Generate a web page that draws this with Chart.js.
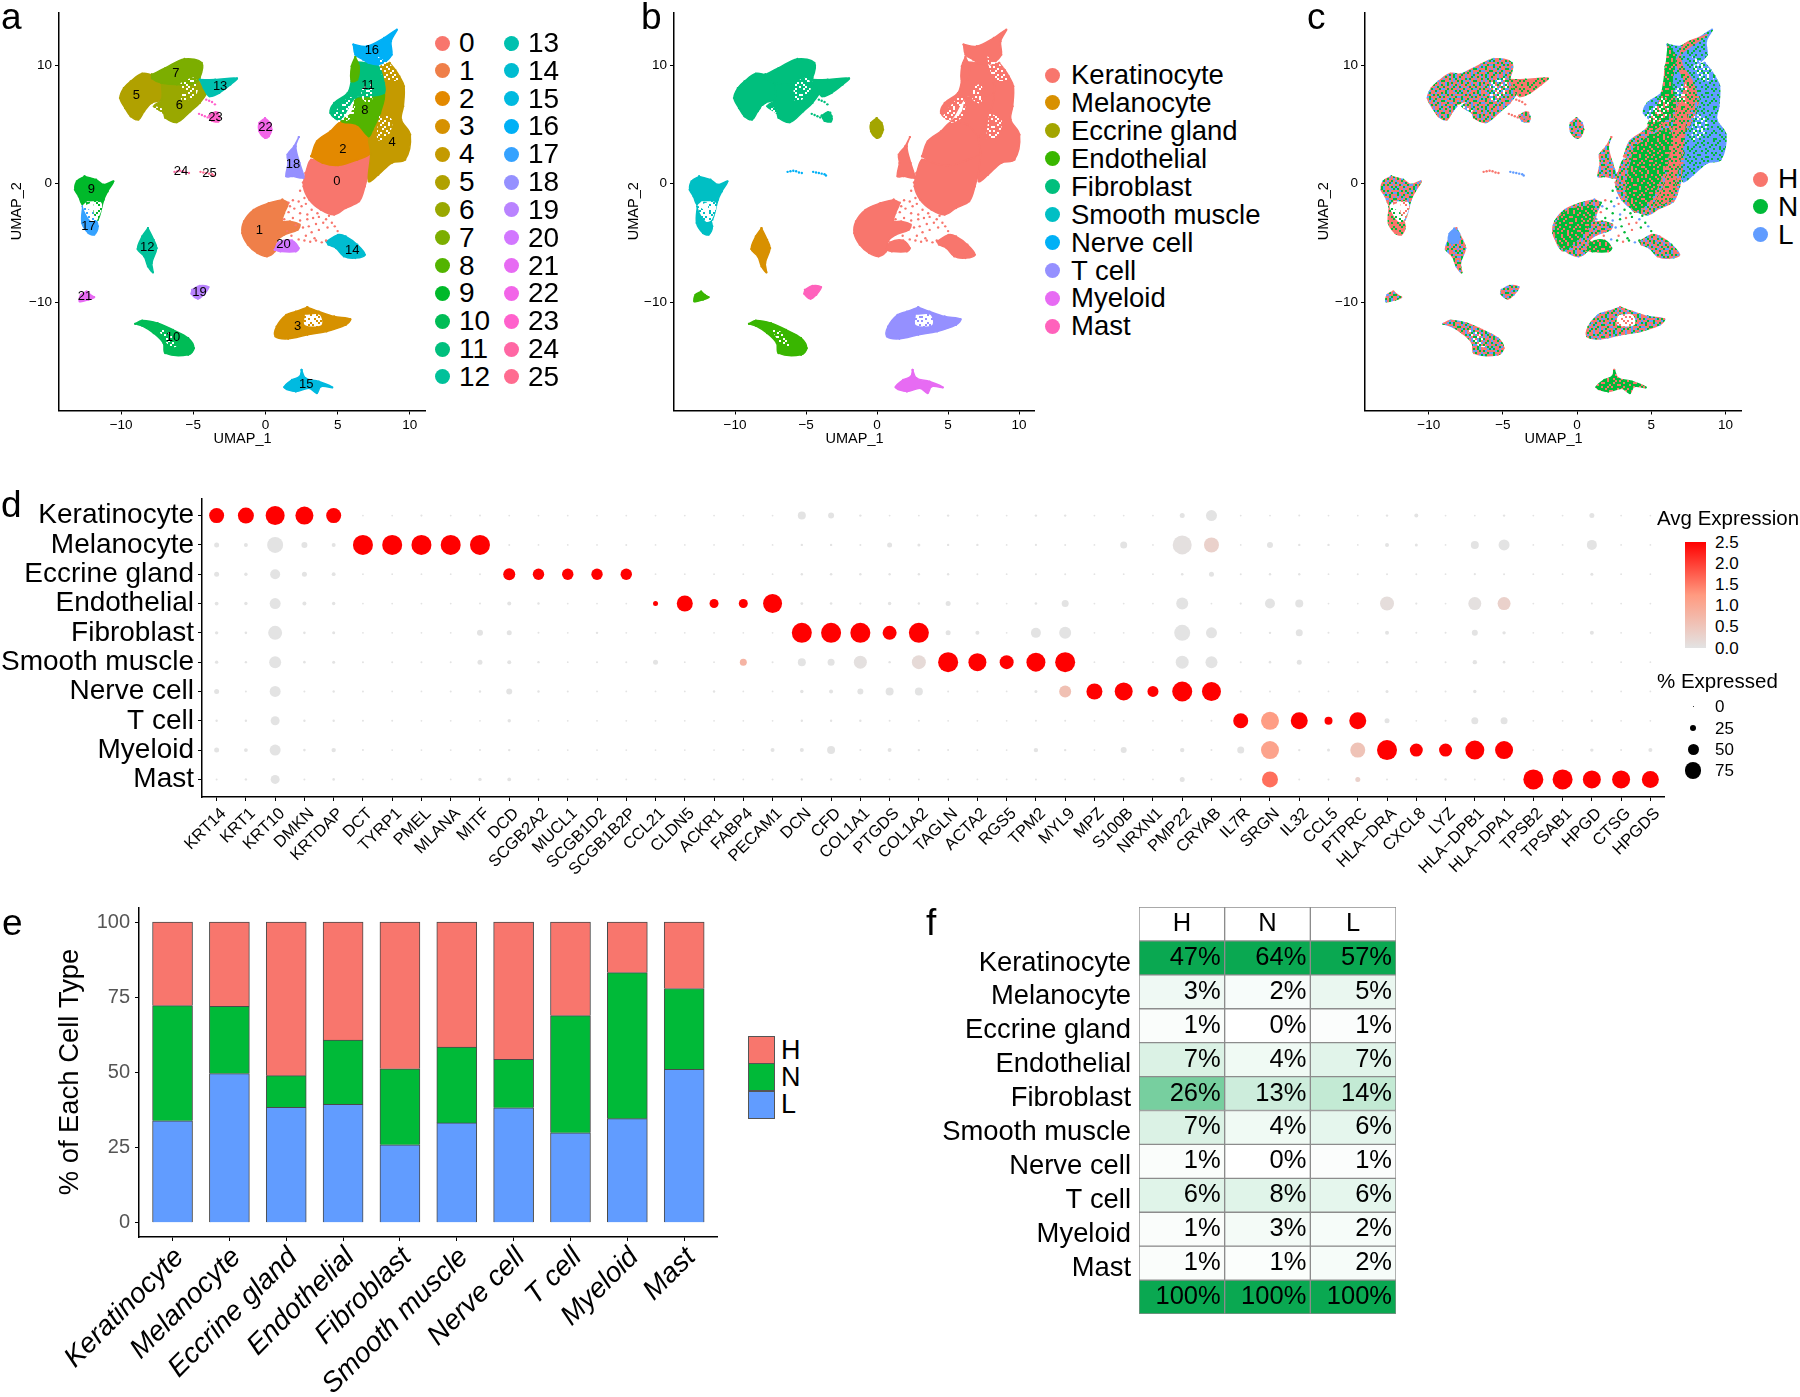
<!DOCTYPE html>
<html lang="en">

<head>
  <meta charset="utf-8">
  <style>
    body { margin: 0; width: 1800px; height: 1397px; position: relative; overflow: hidden; background: #fff; font-family: "Liberation Sans", Arial, sans-serif; color: #000; }
    canvas { position: absolute; }
    .t { position: absolute; line-height: 1; white-space: nowrap; }
    .d { position: absolute; border-radius: 50%; }
  </style>
  <script src="https://cdn.jsdelivr.net/npm/chart.js"></script>
</head>

<body>
  <script>
    const FONT = '"Liberation Sans", Arial, sans-serif';

    /* ---------------- UMAP outlines ---------------- */
    const outline0 = [[2.77,0.9],[2.63,-0.23],[3.03,-1.35],[3.83,-2.2],[4.76,-2.62],[5.56,-2.06],[6.49,-1.49],[6.89,-0.23],[7.29,1.75],[7.29,2.59],[6.36,2.03],[5.03,1.55],[3.96,1.75],[3.16,2.03]];
    const outline1 = [[1.17,-1.35],[0.24,-1.63],[-0.82,-2.2],[-1.49,-3.18],[-1.62,-4.17],[-1.22,-5.15],[-0.56,-5.86],[0.11,-6.14],[0.64,-5.72],[0.77,-4.87],[1.3,-4.31],[2.23,-3.89],[2.37,-3.46],[1.7,-3.18],[1.17,-3.18],[1.3,-2.48],[1.57,-1.63]];
    const outline2 = [[3.16,2.31],[3.56,3.58],[4.49,4.42],[5.29,5.27],[6.36,4.99],[7.15,4.0],[7.29,2.59],[6.36,2.03],[5.03,1.55],[3.96,1.75]];
    const outline3 = [[2.9,-10.42],[3.7,-10.79],[4.76,-11.21],[5.88,-11.44],[5.56,-11.92],[4.23,-12.48],[2.9,-12.76],[1.57,-13.1],[0.69,-12.9],[0.77,-12.06],[1.44,-11.07],[2.1,-10.79]];
    const outline4 = [[8.6,10.2],[9.0,9.6],[9.28,9.07],[9.6,8.23],[9.55,6.54],[9.41,5.41],[10.03,4.14],[9.68,2.03],[8.75,1.75],[7.82,0.76],[7.15,0.2],[7.29,2.59],[7.15,4.0],[7.85,5.97],[8.1,7.38],[8.1,8.5],[8.0,9.9]];
    const outline5 = [[-7.87,9.21],[-8.54,9.3],[-9.34,8.65],[-9.81,8.08],[-10.08,7.24],[-9.73,6.39],[-9.34,5.69],[-8.8,5.41],[-8.4,6.11],[-7.87,6.82],[-7.2,7.1],[-7.07,7.94],[-7.34,8.79]];
    const outline6 = [[-7.2,8.5],[-6.14,8.5],[-4.8,8.8],[-4.41,8.37],[-4.0,7.9],[-4.55,6.82],[-5.2,6.11],[-6.14,5.18],[-6.94,5.55],[-7.07,5.97],[-7.74,6.54],[-7.2,7.1]];
    const outline7 = [[-7.87,9.21],[-6.94,9.77],[-5.61,10.54],[-4.41,10.2],[-4.55,8.93],[-5.0,8.4],[-6.14,8.37],[-7.2,8.5],[-7.87,8.9]];
    const outline8 = [[6.22,7.24],[7.29,7.38],[8.22,7.66],[7.95,5.97],[7.42,4.56],[7.15,4.0],[6.36,4.99],[5.29,5.27],[5.96,5.97]];
    const outline8b = [[6.22,10.7],[6.49,9.92],[6.36,8.79],[5.96,8.65],[5.96,9.92]];
    const outline9 = [[-12.53,0.62],[-11.73,0.34],[-11.2,-0.08],[-10.53,0.2],[-10.93,-0.65],[-11.2,-1.35],[-11.6,-3.04],[-11.86,-2.9],[-11.9,-1.55],[-12.66,-1.77],[-12.93,-1.07],[-13.2,-0.51],[-13.07,0.2]];
    const outline10 = [[-9.02,-11.83],[-8.54,-11.55],[-7.47,-11.77],[-6.41,-12.34],[-5.35,-13.04],[-4.95,-13.89],[-5.35,-14.45],[-6.94,-14.31],[-7.07,-13.46],[-7.74,-12.62],[-8.54,-12.0]];
    const outline11 = [[7.02,10.2],[7.82,9.92],[8.22,8.5],[8.22,7.66],[7.29,7.38],[6.22,7.24],[5.16,5.41],[4.49,5.97],[4.76,6.82],[5.69,7.66],[5.96,8.79],[6.09,10.2]];
    const outline12 = [[-8.14,-3.75],[-7.74,-4.73],[-7.53,-5.44],[-7.87,-6.7],[-7.79,-7.49],[-8.14,-6.99],[-8.4,-6.14],[-8.86,-5.52],[-8.54,-4.45]];
    const outline13 = [[-4.55,8.79],[-3.48,8.79],[-1.97,8.9],[-2.42,8.37],[-3.2,7.66],[-3.88,7.38],[-4.28,8.08]];
    const outline14 = [[4.23,-4.87],[5.03,-4.31],[5.56,-4.45],[6.36,-5.15],[6.89,-6.0],[6.22,-6.28],[5.43,-6.14],[4.89,-5.44],[4.36,-5.15]];
    const outline15 = [[2.5,-15.72],[2.77,-16.42],[3.7,-16.7],[4.63,-17.2],[3.83,-17.13],[3.56,-17.69],[3.03,-17.27],[2.1,-17.55],[1.3,-17.18],[1.84,-16.56],[2.37,-16.28]];
    const outline16 = [[6.09,11.75],[7.02,11.61],[8.22,12.31],[9.1,13.01],[8.7,12.03],[8.75,10.9],[8.35,10.34],[7.82,10.06],[7.15,10.2],[6.75,10.48],[6.22,10.9]];
    const outline17 = [[-12.66,-1.92],[-12.0,-2.48],[-11.6,-3.6],[-11.86,-4.31],[-12.26,-4.17],[-12.71,-3.32]];
    const outline18 = [[2.31,3.94],[2.1,3.15],[2.37,1.75],[2.63,0.76],[2.63,0.48],[1.84,0.62],[1.43,0.62],[1.57,1.75],[1.52,2.45],[1.97,3.15]];
    const outline19 = [[-5.08,-8.96],[-4.55,-8.62],[-3.94,-8.73],[-4.28,-9.38],[-4.68,-9.72],[-5.13,-9.3]];
    const outline20 = [[0.64,-5.58],[0.9,-4.96],[1.84,-4.79],[2.31,-5.44],[2.1,-5.72],[1.04,-5.72]];
    const outline21 = [[-12.39,-9.1],[-12.13,-9.38],[-11.86,-9.58],[-12.26,-9.8],[-12.87,-9.94],[-12.79,-9.38]];
    const outline22 = [[-0.03,5.55],[0.32,5.13],[0.43,4.56],[0.24,4.0],[-0.03,3.86],[-0.43,4.42],[-0.43,5.13]];
    const outline23 = [[-3.9,5.75],[-3.45,6.05],[-3.2,5.7],[-3.25,5.25],[-3.7,5.3]];
    const dots23 = [[-4.6,5.9],[-4.4,5.8],[-4.2,5.7],[-4.0,5.6],[-3.8,5.55],[-3.6,5.5],[-3.4,5.4],[-3.2,5.5],[-4.1,7.1],[-3.9,7.0],[-3.7,6.9],[-3.5,6.7],[-3.3,6.0]];
    const dots24 = [[-6.3,1.0],[-6.1,1.05],[-5.9,1.1],[-5.7,1.05],[-5.5,0.95],[-5.3,0.9]];
    const dots25 = [[-4.5,1.0],[-4.3,0.95],[-4.1,0.9],[-3.9,0.85],[-3.7,0.8],[-3.6,0.7]];
    const bridgeDots = [[1.6,-1.6],[1.9,-1.4],[2.3,-1.5],[2.5,-1.9],[2.0,-2.1],[1.6,-2.4],[2.4,-2.5],[2.9,-2.6],[3.2,-2.2],[2.8,-1.7],[1.9,-2.9],[2.4,-3.1],[2.9,-3.0],[3.3,-2.9],[3.7,-2.8],[4.2,-3.0],[4.6,-3.3],[3.5,-3.4],[3.0,-3.6],[2.6,-3.7],[3.2,-4.1],[3.7,-3.9],[4.3,-3.7],[4.8,-3.6],[5.0,-4.0],[2.8,-4.4],[3.4,-4.6],[2.3,-4.7],[2.7,-4.8],[3.1,-4.9],[3.5,-4.8],[3.9,-4.95],[4.2,-4.8],[1.8,-4.4],[4.4,-2.7],[1.3,-3.0],[1.5,-4.0],[2.6,0.1],[2.4,-0.6],[2.7,-1.2],[3.6,-2.5],[4.0,-3.3],[2.1,-3.5],[1.7,-1.9]];

    // sparse areas inside the clouds, lightly speckled
    const holes = [
      [[6.61,8.08],[7.33,8.37],[7.33,6.82],[6.75,7.1]],
      [[7.76,10.76],[8.91,9.77],[9.2,8.79],[8.33,8.79],[7.9,9.77]],
      [[5.75,7.38],[6.18,7.1],[6.03,5.69],[5.17,5.13],[4.6,5.55]],
      [[7.9,5.97],[8.76,5.41],[8.48,4.0],[7.76,3.72]],
      [[-5.89,8.51],[-4.89,8.93],[-4.74,7.66],[-5.75,6.96]],
      [[-8.05,6.68],[-7.04,6.25],[-7.33,5.83],[-8.19,6.11]],
      [[-7.47,-12.2],[-6.61,-12.62],[-6.18,-13.75],[-6.75,-13.6]]
    ];
    // mostly empty areas
    const emptyAreas = [
      [[2.73,-11.07],[3.74,-11.07],[3.88,-11.92],[2.73,-11.92]],
      [[-12.36,-1.49],[-11.35,-1.63],[-11.64,-3.04],[-12.07,-3.18],[-12.64,-1.92]]
    ];

    // panel c: areas where one condition dominates
    const redBand = [[8.72,12.54],[7.16,11.69],[7.05,10.14],[7.72,8.73],[8.05,7.32],[7.38,5.63],[7.16,3.38],[6.71,0.85],[6.38,-1.13],[5.26,-1.83],[5.93,0],[6.38,3.38],[6.6,5.63],[7.27,8.45],[6.71,10.42]];
    const greenStreak = [[6.15,11.69],[6.6,10.7],[6.38,8.45],[6.6,6.48],[5.7,5.07],[5.03,4.51],[4.81,5.07],[5.59,7.04],[5.93,9.3]];
    const greenCore = [[3.8,3.1],[5.03,4.23],[6.38,4.51],[6.15,1.97],[5.03,-1.41],[3.91,-2.39],[3.24,-0.56],[3.47,1.41]];
    const greenBlob = [[1.12,-1.69],[1.23,-2.82],[0.11,-4.79],[-1.0,-5.63],[-1.57,-3.66],[-0.78,-2.25]];
    const blueTop12 = [[-8.28,-3.8],[-7.94,-4.23],[-8.05,-4.93],[-8.61,-4.93],[-8.61,-4.23]];

    const clusterIds = [0,1,2,3,4,5,6,7,8,9,10,11,12,13,14,15,16,17,18,19,20,21,22,23,24,25];
    const clusterColors = ['#F8766D','#EF7F49','#E38900','#D69100','#C49A00','#B0A100','#99A800','#7CAE00','#53B400','#00B92A','#00BC56','#00BF7D','#00C19A','#00C0AF','#00BCD0','#00BAE0','#00B0F6','#35A2FF','#9590FF','#B983FF','#D277FF','#E76BF3','#F265E8','#FF61CC','#FF67A4','#FF6C90'];
    const clusterLabelAt = [[4.95,0.17],[-0.43,-3.94],[5.37,2.93],[2.23,-12.06],[8.78,3.52],[-8.94,7.49],[-5.96,6.65],[-6.2,9.35],[6.89,6.17],[-12.05,-0.45],[-6.41,-12.96],[7.1,8.31],[-8.19,-5.41],[-3.14,8.25],[6.01,-5.66],[2.82,-16.99],[7.37,11.24],[-12.26,-3.61],[1.91,1.66],[-4.57,-9.15],[1.25,-5.1],[-12.5,-9.55],[0,4.73],[-3.46,5.58],[-5.85,1.01],[-3.88,0.85]];

    const cellTypes = ['Keratinocyte','Melanocyte','Eccrine gland','Endothelial','Fibroblast','Smooth muscle','Nerve cell','T cell','Myeloid','Mast'];
    const typeColors = ['#F8766D','#D89000','#A3A500','#39B600','#00BF7D','#00BFC4','#00B0F6','#9590FF','#E76BF3','#FF62BC'];
    // cell type index of each cluster
    const clusterType = [0,0,0,7,0,4,4,4,0,5,3,0,1,4,0,8,0,5,0,9,0,3,2,4,6,6];
    // dominant condition tile of each cluster in panel c
    const clusterMix = ['mix','mix','mix','mix','blue','mix','mix','mix','mix','mix','mix','blue','mix','red','mix','green','blue','red','mix','mix','green','mix','mix','mix','red','blue'];

    const umapXTicks = [-10,-5,0,5,10];
    const umapYTicks = [-10,0,10];
    const conditions = ['H','N','L'];
    const condColors = {H:'#F8766D', N:'#00BA38', L:'#619CFF'};

    /* ---------------- dot plot ---------------- */
    const genes = ['KRT14','KRT1','KRT10','DMKN','KRTDAP','DCT','TYRP1','PMEL','MLANA','MITF','DCD','SCGB2A2','MUCL1','SCGB1D2','SCGB1B2P','CCL21','CLDN5','ACKR1','FABP4','PECAM1','DCN','CFD','COL1A1','PTGDS','COL1A2','TAGLN','ACTA2','RGS5','TPM2','MYL9','MPZ','S100B','NRXN1','PMP22','CRYAB','IL7R','SRGN','IL32','CCL5','PTPRC','HLA\u2212DRA','CXCL8','LYZ','HLA\u2212DPB1','HLA\u2212DPA1','TPSB2','TPSAB1','HPGD','CTSG','HPGDS'];
    const pctKeratinocyte = [68,73,88,83,68,2,2,4,2,3,2,2,2,2,2,2,2,2,2,2,33,23,5,2,2,5,3,2,5,5,2,2,2,18,48,2,2,3,2,2,5,13,2,2,5,2,2,18,2,2];
    const pctMelanocyte = [18,13,73,23,13,93,93,93,93,93,3,2,2,2,3,2,2,2,2,2,5,5,3,18,8,5,5,2,4,3,2,28,2,88,68,2,23,5,5,2,13,8,2,33,48,2,2,43,2,2];
    const pctEccrine = [18,10,43,18,12,2,2,2,2,3,53,50,50,50,50,2,2,2,2,2,5,6,5,5,5,5,3,2,3,3,2,2,2,6,18,3,5,5,2,3,3,3,2,4,3,2,2,8,2,2];
    const pctEndothelial = [12,10,48,13,10,2,2,2,2,3,13,5,2,2,2,18,73,38,38,88,7,6,4,10,5,18,5,2,6,28,2,2,2,53,2,4,43,33,2,2,63,4,2,58,58,2,2,3,2,2];
    const pctFibroblast = [10,6,63,6,8,2,2,2,2,23,18,3,2,5,2,2,2,2,2,2,93,93,93,63,93,18,13,2,43,53,2,2,2,73,48,2,5,28,3,3,13,3,3,23,10,2,2,13,2,2];
    const pctSmooth = [10,5,53,6,8,3,3,3,3,18,13,5,2,3,3,18,2,2,28,3,33,28,58,5,63,93,83,63,88,93,2,2,2,58,53,3,6,18,3,3,5,3,3,15,6,2,2,3,2,2];
    const pctNerve = [18,3,48,3,5,3,2,2,3,5,23,5,3,2,2,2,2,5,2,2,10,13,23,33,33,3,3,2,8,53,73,83,48,93,88,3,3,3,2,2,8,3,3,10,3,2,2,4,2,2];
    const pctTcell = [5,5,38,5,5,3,3,2,2,2,10,2,2,2,2,2,2,2,2,2,5,5,5,3,3,2,2,2,3,3,2,2,2,3,3,68,83,78,33,78,18,2,3,28,28,2,2,5,2,2];
    const pctMyeloid = [18,12,48,6,15,3,2,2,2,3,5,2,2,2,2,2,2,2,3,13,13,33,3,13,5,3,2,2,15,5,2,23,2,15,3,28,83,5,8,68,93,58,58,88,83,2,2,10,3,13];
    const pctMast = [3,5,38,3,6,2,2,2,2,10,12,3,2,2,2,2,2,3,2,3,5,5,2,2,2,2,2,2,3,2,2,2,2,18,3,4,73,3,3,18,3,2,5,3,3,93,93,83,83,78];
    const pctRows = [pctKeratinocyte,pctMelanocyte,pctEccrine,pctEndothelial,pctFibroblast,pctSmooth,pctNerve,pctTcell,pctMyeloid,pctMast];

    const avgKeratinocyte = [2.5,2.5,2.5,2.5,2.5,0,0,0,0,0,0,0,0,0,0,0,0,0,0,0,0,0,0,0,0,0,0,0,0,0,0,0,0,0,0,0,0,0,0,0,0,0,0,0,0,0,0,0,0,0];
    const avgMelanocyte = [0,0,0,0,0,2.5,2.5,2.5,2.5,2.5,0,0,0,0,0,0,0,0,0,0,0,0,0,0,0,0,0,0,0,0,0,0,0,0.05,0.3,0,0,0,0,0,0,0,0,0,0,0,0,0,0,0];
    const avgEccrine = [0,0,0,0,0,0,0,0,0,0,2.5,2.5,2.5,2.5,2.5,0,0,0,0,0,0,0,0,0,0,0,0,0,0,0,0,0,0,0,0,0,0,0,0,0,0,0,0,0,0,0,0,0,0,0];
    const avgEndothelial = [0,0,0,0,0,0,0,0,0,0,0,0,0,0,0,2.5,2.5,2.5,2.5,2.5,0,0,0,0,0,0,0,0,0,0,0,0,0,0,0,0,0,0,0,0,0.1,0,0,0.05,0.3,0,0,0,0,0];
    const avgFibroblast = [0,0,0,0,0,0,0,0,0,0,0,0,0,0,0,0,0,0,0,0,2.5,2.5,2.5,2.5,2.5,0,0,0,0,0,0,0,0,0,0,0,0,0,0,0,0,0,0,0,0,0,0,0,0,0];
    const avgSmooth = [0,0,0,0,0,0,0,0,0,0,0,0,0,0,0,0,0,0,0.8,0,0,0,0.05,0,0.15,2.5,2.5,2.5,2.5,2.5,0,0,0,0,0,0,0,0,0,0,0,0,0,0,0,0,0,0,0,0];
    const avgNerve = [0,0,0,0,0,0,0,0,0,0,0,0,0,0,0,0,0,0,0,0,0,0,0,0,0,0,0,0,0,0.6,2.5,2.5,2.5,2.5,2.5,0,0,0,0,0,0,0,0,0,0,0,0,0,0,0];
    const avgTcell = [0,0,0,0,0,0,0,0,0,0,0,0,0,0,0,0,0,0,0,0,0,0,0,0,0,0,0,0,0,0,0,0,0,0,0,2.5,1.2,2.5,2.5,2.5,0,0,0,0,0,0,0,0,0,0];
    const avgMyeloid = [0,0,0,0,0,0,0,0,0,0,0,0,0,0,0,0,0,0,0,0,0,0,0,0,0,0,0,0,0,0,0,0,0,0,0,0,1.1,0,0,0.55,2.5,2.5,2.5,2.5,2.5,0,0,0,0,0];
    const avgMast = [0,0,0,0,0,0,0,0,0,0,0,0,0,0,0,0,0,0,0,0,0,0,0,0,0,0,0,0,0,0,0,0,0,0,0,0,1.6,0,0,0.3,0,0,0,0,0,2.5,2.5,2.5,2.5,2.5];
    const avgRows = [avgKeratinocyte,avgMelanocyte,avgEccrine,avgEndothelial,avgFibroblast,avgSmooth,avgNerve,avgTcell,avgMyeloid,avgMast];

    const colorbarLabels = ['2.5','2.0','1.5','1.0','0.5','0.0'];
    const sizeLegendPct = [0,25,50,75];

    /* ---------------- stacked bars ---------------- */
    const barL = [33.9,49.6,38.4,39.4,25.9,33.2,38.2,29.9,34.6,51.0];
    const barN = [38.3,22.4,10.5,21.3,25.3,25.2,16.1,39.0,48.6,26.9];
    const barH = [27.8,28.0,51.1,39.3,48.8,41.6,45.7,31.1,16.8,22.1];
    const barTicks = [0,25,50,75,100];

    /* ---------------- percent table ---------------- */
    const tableH = [47,3,1,7,26,7,1,6,1,1,100];
    const tableN = [64,2,0,4,13,4,0,8,3,1,100];
    const tableL = [57,5,1,7,14,6,1,6,2,2,100];

    /* ------------------------------------------------ */

    const outlines = [outline0,outline1,outline2,outline3,outline4,outline5,outline6,outline7,outline8,outline9,outline10,outline11,outline12,outline13,outline14,outline15,outline16,outline17,outline18,outline19,outline20,outline21,outline22,outline23,[],[]];
    const clusterDots = {23: dots23, 24: dots24, 25: dots25};

    const toXY = pts => pts.map(p => ({x: p[0], y: p[1]}));
    const closed = pts => toXY(pts.concat([pts[0]]));

    const TILE = [
      'abdcabcdbadcadbc','cdabdcbacdabcbad','badcacdbdbcaacdb','dcbabdacabdcbdca',
      'acbdcabdcadbdacb','bdacdbcabcadcbda','cabdbadcdabcadbc','dbcaacbdbcdabcad',
      'abcddacbcbadcdab','cdbabcdaadcbabdc','badcdabccbdadcba','dacbcbadabcdbadc',
      'bcadabdcdcabcdab','adbccdabbadcabcd','cbdadcbaacbdbdca','dacbabcddbacdacb'
    ];

    function tile(map) {
      const c = document.createElement('canvas');
      c.width = c.height = 32;
      const g = c.getContext('2d');
      TILE.forEach((row, j) => [...row].forEach((ch, i) => {
        if (!map[ch]) return;
        g.fillStyle = map[ch];
        g.fillRect(i * 2, j * 2, 2, 2);
      }));
      return g.createPattern(c, 'repeat');
    }

    const {H, N, L} = condColors;
    const tiles = {
      mix: tile({a: H, b: N, c: L, d: H}),
      red: tile({a: H, b: H, c: H, d: N}),
      green: tile({a: N, b: N, c: H, d: N}),
      blue: tile({a: L, b: L, c: L, d: N}),
      sparse: tile({a: '#fff'}),
      empty: tile({a: '#fff', b: '#fff', c: '#fff'})
    };

    function blob(pts, fill, edge) {
      return {
        data: closed(pts), showLine: true, fill: 'shape', tension: 0.35,
        backgroundColor: fill, borderColor: edge, borderWidth: 1.5,
        pointRadius: 1.1, pointBackgroundColor: edge, pointBorderWidth: 0
      };
    }

    function dots(pts, color, r) {
      return {data: toXY(pts), showLine: false, pointRadius: r || 1.2, pointBackgroundColor: color, pointBorderWidth: 0};
    }

    const patch = (pts, fill) => ({
      data: closed(pts), showLine: true, fill: 'shape', tension: 0.35, borderWidth: 0,
      backgroundColor: fill, pointRadius: 0
    });
    const holeSets = () => holes.map(h => patch(h, tiles.sparse)).concat(emptyAreas.map(h => patch(h, tiles.empty)));

    // Chart.js paints the first dataset last, so flip the lists
    function panelADatasets() {
      const sets = [];
      clusterIds.forEach(id => {
        if (outlines[id].length) sets.push(blob(outlines[id], clusterColors[id], clusterColors[id]));
        if (clusterDots[id]) sets.push(dots(clusterDots[id], clusterColors[id]));
      });
      sets.push(blob(outline8b, clusterColors[8], clusterColors[8]));
      sets.push(dots(bridgeDots, clusterColors[0]));
      return sets.concat(holeSets()).reverse();
    }

    function panelBDatasets() {
      const sets = [];
      clusterIds.forEach(id => {
        const col = typeColors[clusterType[id]];
        if (outlines[id].length) sets.push(blob(outlines[id], col, col));
        if (clusterDots[id]) sets.push(dots(clusterDots[id], col));
      });
      sets.push(blob(outline8b, typeColors[0], typeColors[0]));
      sets.push(dots(bridgeDots, typeColors[0]));
      return sets.concat(holeSets()).reverse();
    }

    function panelCDatasets() {
      const sets = [];
      const edge = {mix: H, red: H, green: N, blue: L};
      clusterIds.forEach(id => {
        const m = clusterMix[id];
        if (outlines[id].length) sets.push(blob(outlines[id], tiles[m], tiles[m]));
        if (clusterDots[id]) sets.push(dots(clusterDots[id], edge[m]));
      });
      sets.push(blob(outline8b, tiles.green, tiles.green));
      sets.push(dots(bridgeDots, bridgeDots.map((p, i) => [N, H, N, L][i % 4])));
      sets.push(blob(greenCore, tiles.green, tiles.mix));
      sets.push(blob(greenBlob, tiles.green, tiles.mix));
      sets.push(blob(redBand, tiles.red, tiles.red));
      sets.push(blob(greenStreak, tiles.green, tiles.green));
      sets.push(blob(blueTop12, L, L));
      return sets.concat(holeSets()).reverse();
    }

    /* ------------------------------------------------ */

    function addChart(box, type, datasets, scales, plugins, extra) {
      const c = document.createElement('canvas');
      c.width = box.w;
      c.height = box.h;
      c.style.left = box.x + 'px';
      c.style.top = box.y + 'px';
      document.body.appendChild(c);
      return new Chart(c.getContext('2d'), {
        type: type,
        data: Object.assign({datasets: datasets}, extra || {}),
        plugins: plugins || [],
        options: {
          responsive: false,
          animation: false,
          events: [],
          layout: {autoPadding: false, padding: box.pad || 0},
          plugins: {legend: {display: false}, tooltip: {enabled: false}},
          scales: scales
        }
      });
    }

    // zero the label padding so the plot area lands where the boxes say
    function fixBox(s, size) {
      if (s.isHorizontal()) s.height = size; else s.width = size;
      s.paddingLeft = s.paddingRight = s.paddingTop = s.paddingBottom = 0;
    }

    // linear axis with the ticks and labels we ask for, and a fixed thickness
    function axis(o) {
      return {
        type: 'linear', min: o.min, max: o.max, reverse: !!o.reverse, stacked: !!o.stacked, offset: false,
        afterBuildTicks: s => { s.ticks = o.ticks.map(v => ({value: v})); },
        afterFit: s => fixBox(s, o.size),
        border: {display: true, color: '#000', width: o.lineWidth || 1.5},
        grid: {offset: false, drawOnChartArea: false, drawTicks: true, tickLength: 4, color: '#000', lineWidth: 1},
        title: o.title ? {display: true, text: o.title, color: '#000', padding: 0, font: {family: FONT, size: o.titleSize}} : {display: false},
        ticks: {
          autoSkip: false, color: o.color || '#000', padding: o.pad === undefined ? 3 : o.pad,
          minRotation: o.rot || 0, maxRotation: o.rot || 0, labelOffset: o.labelOffset || 0,
          font: {family: FONT, size: o.size2, style: o.italic ? 'italic' : 'normal'},
          callback: o.label
        }
      };
    }

    const minusLabel = v => v < 0 ? '\u2212' + (-v) : String(v);

    function umapChart(box, yWidth, datasets, plugins) {
      addChart(box, 'scatter', datasets, {
        x: axis({min: -14.3, max: 11.12, ticks: umapXTicks, size: 37.5, size2: 13.5, title: 'UMAP_1', titleSize: 14.5, label: minusLabel}),
        y: axis({min: -19.15, max: 14.5, ticks: umapYTicks, size: yWidth, size2: 13.5, title: 'UMAP_2', titleSize: 14.5, label: minusLabel})
      }, plugins);
    }

    const clusterNumbers = {
      id: 'clusterNumbers',
      afterDatasetsDraw(chart) {
        const g = chart.ctx;
        g.save();
        g.font = '13px ' + FONT;
        g.fillStyle = '#000';
        g.textAlign = 'center';
        g.textBaseline = 'middle';
        clusterIds.forEach(id => {
          const p = clusterLabelAt[id];
          g.fillText(String(id), chart.scales.x.getPixelForValue(p[0]), chart.scales.y.getPixelForValue(p[1]));
        });
        g.restore();
      }
    };

    umapChart({x: 8, y: 12, w: 418, h: 436}, 51, panelADatasets(), [clusterNumbers]);
    umapChart({x: 625, y: 12, w: 410, h: 436}, 49, panelBDatasets());
    umapChart({x: 1315, y: 12, w: 427, h: 436}, 50, panelCDatasets());

    /* ------------------------------------------------ */
    // panel d

    const mixHex = (a, b, t) => {
      const p = s => [1, 3, 5].map(i => parseInt(s.substr(i, 2), 16));
      const A = p(a), B = p(b);
      return 'rgb(' + A.map((v, i) => Math.round(v + (B[i] - v) * t)).join(',') + ')';
    };
    const exprColor = v => v < 1.25 ? mixHex('#e3e3e3', '#ff9a80', v / 1.25) : mixHex('#ff9a80', '#ff0000', (v - 1.25) / 1.25);
    const pctRadius = p => 0.7 + p * 0.1;

    const dotData = [], dotColors = [];
    cellTypes.forEach((ct, r) => genes.forEach((g, i) => {
      dotData.push({x: i, y: r, r: pctRadius(pctRows[r][i])});
      dotColors.push(exprColor(avgRows[r][i]));
    }));

    addChart({x: 0, y: 498, w: 1665, h: 392}, 'bubble', [{data: dotData, backgroundColor: dotColors, borderWidth: 0}], {
      x: axis({min: -0.5, max: 49.5, ticks: genes.map((g, i) => i), size: 93, size2: 16.5, rot: 45, pad: 3, labelOffset: 7, label: (v, i) => genes[i]}),
      y: axis({min: -0.6, max: 9.6, reverse: true, ticks: cellTypes.map((c, i) => i), size: 202, size2: 28, pad: 4, label: (v, i) => cellTypes[i]})
    });

    /* ------------------------------------------------ */
    // panel e

    const barSet = (vals, key) => ({
      label: key, data: vals.map((v, i) => ({x: i, y: v})), backgroundColor: condColors[key],
      borderColor: '#4a4a4a', borderWidth: 1, barThickness: 40
    });

    addChart({x: 54, y: 907, w: 664, h: 490}, 'bar', [barSet(barL, 'L'), barSet(barN, 'N'), barSet(barH, 'H')], {
      x: axis({min: -0.59, max: 9.595, stacked: true, ticks: cellTypes.map((c, i) => i), size: 160, size2: 28, rot: 45, pad: 0, labelOffset: 7, italic: true, label: (v, i) => cellTypes[i]}),
      y: axis({min: -4.75, max: 105, stacked: true, ticks: barTicks, size: 85, size2: 20, color: '#555', pad: 5, title: '% of Each Cell Type', titleSize: 27.4, label: v => String(v)})
    });

    /* ------------------------------------------------ */
    // panel f

    const tableCols = [tableH, tableN, tableL];
    const tableRowNames = cellTypes.concat(['']);
    const cellColor = (val, col) => mixHex('#ffffff', '#0aa851', Math.min(1, val / tableCols[col][0]));

    const tableSets = [{
      data: conditions.map(() => [0, 1]), backgroundColor: '#fff', borderColor: '#8c8c8c',
      borderWidth: 1, borderSkipped: false, grouped: false, categoryPercentage: 1, barPercentage: 1
    }];
    tableRowNames.forEach((name, r) => tableSets.push({
      data: conditions.map(() => [r + 1, r + 2]),
      backgroundColor: conditions.map((c, k) => cellColor(tableCols[k][r], k)),
      borderColor: '#8c8c8c', borderWidth: 1, borderSkipped: false, grouped: false,
      categoryPercentage: 1, barPercentage: 1
    }));

    const cellText = {
      id: 'cellText',
      afterDatasetsDraw(chart) {
        const g = chart.ctx, xs = chart.scales.x, ys = chart.scales.y;
        const half = (xs.getPixelForValue(1) - xs.getPixelForValue(0)) / 2;
        g.save();
        g.font = '25.5px ' + FONT;
        g.fillStyle = '#000';
        g.textBaseline = 'middle';
        conditions.forEach((c, k) => {
          const cx = xs.getPixelForValue(k);
          g.textAlign = 'center';
          g.fillText(c, cx, ys.getPixelForValue(0.5));
          g.textAlign = 'right';
          tableCols[k].forEach((v, r) => g.fillText(v + '%', cx + half - 4, ys.getPixelForValue(r + 1.5)));
        });
        g.restore();
      }
    };

    addChart({x: 936, y: 906, w: 461, h: 409, pad: {top: 1, bottom: 1, right: 1}}, 'bar', tableSets, {
      x: {type: 'category', display: false},
      y: {
        type: 'linear', min: 0, max: 12, reverse: true,
        afterBuildTicks: s => { s.ticks = cellTypes.map((c, i) => ({value: i + 1.65})); },
        afterFit: s => fixBox(s, 203),
        border: {display: false},
        grid: {display: false},
        ticks: {autoSkip: false, color: '#000', padding: 0, font: {family: FONT, size: 27.4}, callback: (v, i) => cellTypes[i]}
      }
    }, [cellText], {labels: conditions});

    /* ------------------------------------------------ */
    // text, legends

    function text(s, x, cy, size) {
      const e = document.createElement('div');
      e.className = 't';
      e.textContent = s;
      e.style.cssText = 'left:' + x + 'px;top:' + (cy - size / 2) + 'px;font-size:' + size + 'px';
      document.body.appendChild(e);
    }

    function dot(x, y, r, color) {
      const e = document.createElement('div');
      e.className = 'd';
      e.style.cssText = 'left:' + (x - r) + 'px;top:' + (y - r) + 'px;width:' + (2 * r) + 'px;height:' + (2 * r) + 'px;background:' + color;
      document.body.appendChild(e);
    }

    // panel letters, by baseline
    [['a', 1, 29], ['b', 641, 29], ['c', 1307, 29], ['d', 1, 517], ['e', 2, 935], ['f', 926, 935]].forEach(l => {
      text(l[0], l[1], l[2] - 0.8465 * 37 + 18.5, 37);
    });

    clusterIds.forEach(id => {
      const col = id < 13 ? 0 : 1, row = id % 13;
      const y = 43 + row * 27.83;
      dot(col ? 511.5 : 442, y, 7.5, clusterColors[id]);
      text(String(id), col ? 528 : 459, y, 28);
    });

    cellTypes.forEach((ct, i) => {
      const y = 75 + i * 27.9;
      dot(1052.5, y, 7.5, typeColors[i]);
      text(ct, 1071, y, 27.5);
    });

    conditions.forEach((c, i) => {
      const y = 179 + i * 27.9;
      dot(1760.5, y, 7.5, condColors[c]);
      text(c, 1778, y, 28);
    });

    text('Avg Expression', 1657, 518, 20.5);
    const bar = document.createElement('div');
    bar.style.cssText = 'position:absolute;left:1684.5px;top:542px;width:21px;height:106px;background:linear-gradient(#ff0000,#ff9a80 50%,#e3e3e3)';
    document.body.appendChild(bar);
    colorbarLabels.forEach((s, i) => text(s, 1715, 542.3 + i * 21.14, 17));

    text('% Expressed', 1657, 681, 20.5);
    sizeLegendPct.forEach((p, i) => {
      const y = 706.7 + i * 21.3;
      dot(1693.3, y, pctRadius(p), '#000');
      text(String(p), 1715, y, 17);
    });

    conditions.forEach((c, i) => {
      const y = 1036 + i * 27.3;
      const e = document.createElement('div');
      e.style.cssText = 'position:absolute;box-sizing:border-box;left:748px;top:' + y + 'px;width:26.5px;height:28px;border:1px solid #555;background:' + condColors[c];
      document.body.appendChild(e);
      text(c, 781, y + 14, 27);
    });
  </script>
</body>

</html>
